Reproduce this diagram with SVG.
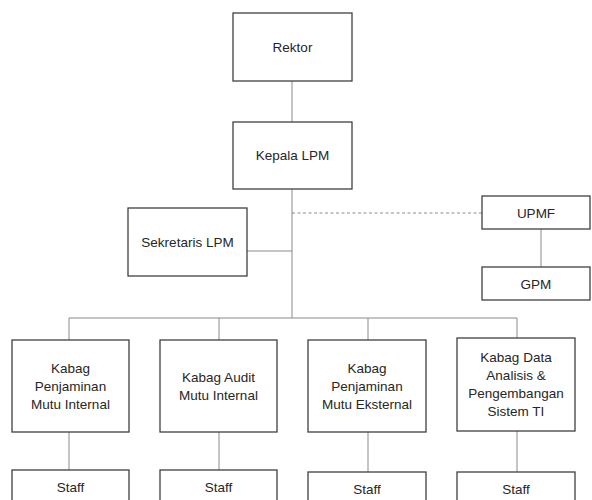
<svg xmlns="http://www.w3.org/2000/svg" width="592" height="500" viewBox="0 0 592 500">
<style>
.box{fill:#fff;stroke:#404040;stroke-width:1.3}
.c{fill:none;stroke:#8a8a8a;stroke-width:1}
.d{stroke-dasharray:3,2.5}
text{font-family:"Liberation Sans",Arial,sans-serif;font-size:13.5px;fill:#262626;text-anchor:middle}
</style>
<rect width="592" height="500" fill="#fff"/>
<g id="connectors">
<line class="c" x1="292" y1="81" x2="292" y2="122"/>
<line class="c" x1="292" y1="189" x2="292" y2="318"/>
<line class="c" x1="247" y1="251" x2="292" y2="251"/>
<line class="c d" x1="292" y1="213" x2="482" y2="213"/>
<line class="c" x1="541" y1="229" x2="541" y2="267"/>
<line class="c" x1="69" y1="318" x2="517" y2="318"/>
<line class="c" x1="69" y1="318" x2="69" y2="340"/>
<line class="c" x1="219" y1="318" x2="219" y2="340"/>
<line class="c" x1="368" y1="318" x2="368" y2="340"/>
<line class="c" x1="517" y1="318" x2="517" y2="338"/>
<line class="c" x1="69" y1="432" x2="69" y2="470"/>
<line class="c" x1="219" y1="432" x2="219" y2="470"/>
<line class="c" x1="368" y1="432" x2="368" y2="472"/>
<line class="c" x1="517" y1="431" x2="517" y2="472"/>
</g>
<g id="rektor"><rect class="box" x="233" y="13" width="119" height="68"/><text x="292.5" y="52">Rektor</text></g>
<g id="kepala"><rect class="box" x="233" y="122" width="119" height="67"/><text x="292.5" y="160">Kepala LPM</text></g>
<g id="sekretaris"><rect class="box" x="128" y="208" width="119" height="68"/><text x="187.5" y="247">Sekretaris LPM</text></g>
<g id="upmf"><rect class="box" x="482" y="196" width="108" height="33"/><text x="536" y="217.5">UPMF</text></g>
<g id="gpm"><rect class="box" x="482" y="267" width="108" height="33"/><text x="536" y="288.5">GPM</text></g>
<g id="kabag1"><rect class="box" x="12" y="340" width="117" height="92"/>
<text x="70.5" y="373">Kabag</text><text x="70.5" y="391">Penjaminan</text><text x="70.5" y="409">Mutu Internal</text></g>
<g id="kabag2"><rect class="box" x="160" y="340" width="117" height="92"/>
<text x="218.5" y="382">Kabag Audit</text><text x="218.5" y="400">Mutu Internal</text></g>
<g id="kabag3"><rect class="box" x="308" y="340" width="118" height="92"/>
<text x="367" y="373">Kabag</text><text x="367" y="391">Penjaminan</text><text x="367" y="409">Mutu Eksternal</text></g>
<g id="kabag4"><rect class="box" x="457" y="338" width="118" height="93"/>
<text x="516" y="362">Kabag Data</text><text x="516" y="380">Analisis &amp;</text><text x="516" y="398">Pengembangan</text><text x="516" y="416">Sistem TI</text></g>
<g id="staff1"><rect class="box" x="12" y="470" width="117" height="45"/><text x="70.5" y="492">Staff</text></g>
<g id="staff2"><rect class="box" x="160" y="470" width="117" height="45"/><text x="218.5" y="492">Staff</text></g>
<g id="staff3"><rect class="box" x="308" y="472" width="118" height="45"/><text x="367" y="494">Staff</text></g>
<g id="staff4"><rect class="box" x="457" y="472" width="118" height="45"/><text x="516" y="494">Staff</text></g>
</svg>
